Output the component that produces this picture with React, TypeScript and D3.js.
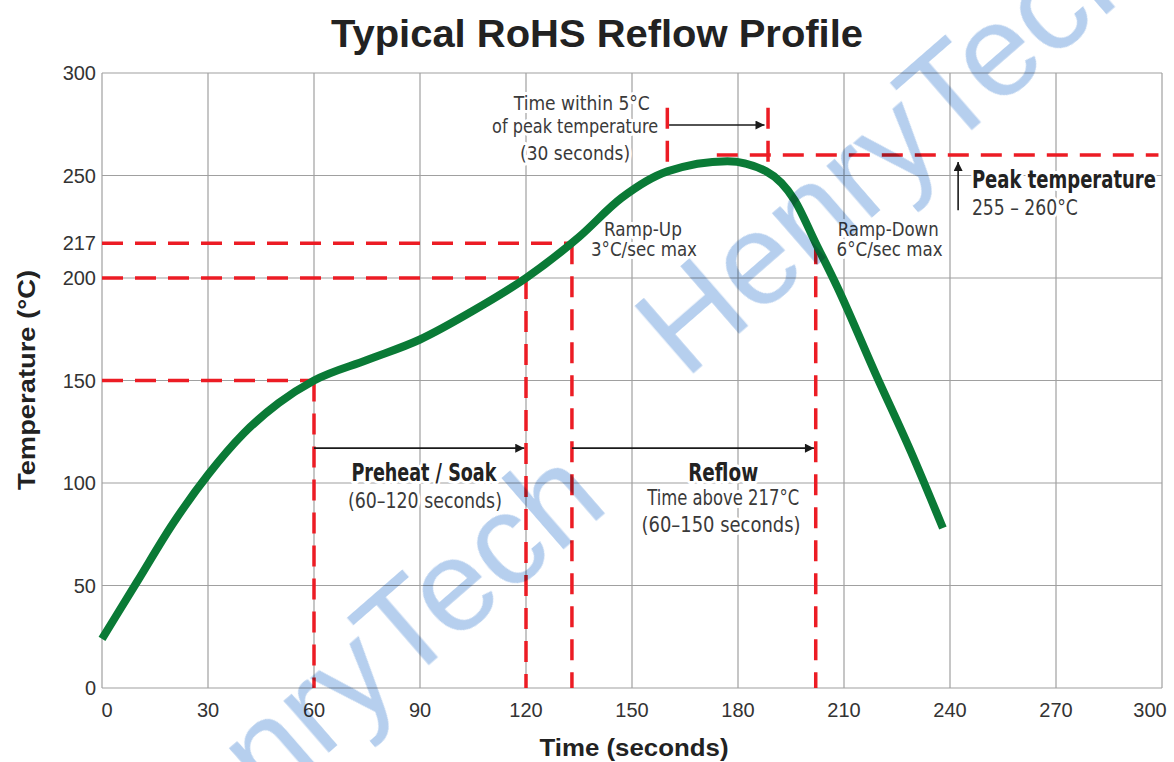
import React from 'react';
import * as d3 from 'd3';

// ---- data ----
const timeSec = [0, 10, 20, 30, 40, 50, 60, 75, 90, 105, 120, 135, 147, 160, 177, 188, 196, 202, 208, 219, 229, 238];
const tempC = [24, 52, 80, 104, 124, 139, 150, 160, 170, 184, 200, 220, 239, 252, 257, 252, 238, 217, 196, 153, 115, 78];

const xTickValues = [0, 30, 60, 90, 120, 150, 180, 210, 240, 270, 300];
const yTickValues = [0, 50, 100, 150, 200, 217, 250, 300];
const yGridValues = [0, 50, 100, 150, 200, 250, 300];

// red dashed reference lines
const hRefTemp = [150, 200, 217, 260];
const hRefStart = [0, 0, 0, 174];
const hRefEnd = [60, 120, 133, 299];
const vRefTime = [60, 120, 133, 202, 160, 188.5];
const vRefLow = [0, 0, 0, 0, 253, 253];
const vRefHigh = [150, 200, 217, 217, 283, 283];

// black arrows (time from, time to, temperature)
const hArrowFrom = [60, 133, 160.5];
const hArrowTo = [119.5, 201.5, 187.5];
const hArrowTemp = [117, 117, 274.6];
const peakArrowTime = 242.3;
const peakArrowFrom = 233;
const peakArrowTo = 256.6;

type Ann = { text: string; t: number; v: number; anchor: string; bold?: boolean; len: number; size: number };
const annotations: Ann[] = [
  { text: 'Time within 5°C', t: 135.8, v: 282, anchor: 'middle', len: 136, size: 20 },
  { text: 'of peak temperature', t: 133.9, v: 270.5, anchor: 'middle', len: 166, size: 20 },
  { text: '(30 seconds)', t: 133.9, v: 257.5, anchor: 'middle', len: 110, size: 20 },
  { text: 'Ramp-Up', t: 153.1, v: 220.5, anchor: 'middle', len: 78, size: 19 },
  { text: '3°C/sec max', t: 153.4, v: 210.7, anchor: 'middle', len: 106, size: 19 },
  { text: 'Ramp-Down', t: 222.5, v: 220.5, anchor: 'middle', len: 101, size: 19 },
  { text: '6°C/sec max', t: 222.9, v: 210.7, anchor: 'middle', len: 106, size: 19 },
  { text: 'Peak temperature', t: 246.2, v: 243.9, anchor: 'start', bold: true, len: 184, size: 25 },
  { text: '255 – 260°C', t: 246.2, v: 230.7, anchor: 'start', len: 106, size: 21 },
  { text: 'Preheat / Soak', t: 91.1, v: 101, anchor: 'middle', bold: true, len: 145, size: 25 },
  { text: '(60–120 seconds)', t: 91.4, v: 88, anchor: 'middle', len: 154, size: 21 },
  { text: 'Reflow', t: 175.8, v: 101, anchor: 'middle', bold: true, len: 70, size: 25 },
  { text: 'Time above 217°C', t: 175.8, v: 89.5, anchor: 'middle', len: 152, size: 21 },
  { text: '(60–150 seconds)', t: 175.2, v: 76.3, anchor: 'middle', len: 159, size: 21 },
];

const W = 1174;
const H = 762;
const narrow = '"Liberation Sans Narrow", "DejaVu Sans Condensed", "Arial Narrow", sans-serif';
const sans = '"Liberation Sans", Arial, Helvetica, sans-serif';

export default function App() {
  const x = d3.scaleLinear().domain([0, 300]).range([102, 1162]);
  const y = d3.scaleLinear().domain([0, 300]).range([688, 73]);

  const pts: [number, number][] = timeSec.map((t, i) => [t, tempC[i]]);
  const line = d3
    .line<[number, number]>()
    .x((d) => x(d[0]))
    .y((d) => y(d[1]))
    .curve(d3.curveMonotoneX);

  const red = '#ec1c24';
  const grid = '#a0a0a0';

  const xLabelX = (t: number) => (t === 0 ? x(t) + 5 : t === 300 ? x(t) - 12 : x(t));

  return (
    <svg width={W} height={H} style={{ position: 'absolute', left: 0, top: 0, background: '#fff' }}>
      <defs>
        <marker id="ah" viewBox="0 0 10 10" refX="10" refY="5" markerWidth="15" markerHeight="9" markerUnits="userSpaceOnUse" orient="auto">
          <path d="M0,0 L10,5 L0,10 z" fill="#1a1a1a" />
        </marker>
      </defs>
      <rect x={0} y={0} width={W} height={H} fill="#fff" />

      {/* title */}
      <text x={597} y={47} textAnchor="middle" fontFamily={sans} fontWeight="bold" fontSize={39} fill="#222" textLength={532} lengthAdjust="spacingAndGlyphs">
        Typical RoHS Reflow Profile
      </text>

      {/* grid */}
      <g stroke={grid} strokeWidth={1.2}>
        {yGridValues.map((v) => (
          <line key={'gy' + v} x1={x(0)} x2={x(300)} y1={y(v)} y2={y(v)} />
        ))}
        {xTickValues.map((t) => (
          <line key={'gx' + t} x1={x(t)} x2={x(t)} y1={y(0)} y2={y(300)} />
        ))}
      </g>

      {/* tick labels */}
      <g fontFamily={sans} fontSize={20} fill="#333">
        {yTickValues.map((v) => (
          <text key={'yl' + v} x={96} y={y(v) + 7} textAnchor="end">
            {v}
          </text>
        ))}
        {xTickValues.map((t) => (
          <text key={'xl' + t} x={xLabelX(t)} y={717} textAnchor="middle">
            {t}
          </text>
        ))}
      </g>

      {/* axis titles */}
      <text x={634} y={756} textAnchor="middle" fontFamily={sans} fontWeight="bold" fontSize={24} fill="#222" textLength={189} lengthAdjust="spacingAndGlyphs">
        Time (seconds)
      </text>
      <text transform={`translate(35,380) rotate(-90)`} textAnchor="middle" fontFamily={sans} fontWeight="bold" fontSize={24} fill="#222" textLength={220} lengthAdjust="spacingAndGlyphs">
        Temperature (°C)
      </text>

      {/* annotation texts with white halo */}
      <g style={{ paintOrder: 'stroke' }} stroke="#fff" strokeWidth={6} strokeLinejoin="round">
        {annotations.map((a) => (
          <text
            key={a.text}
            x={x(a.t)}
            y={y(a.v)}
            textAnchor={a.anchor}
            fontFamily={narrow}
            fontWeight={a.bold ? 'bold' : 'normal'}
            fontSize={a.size}
            fill={a.bold ? '#222' : '#3a3a3a'}
            textLength={a.len}
            lengthAdjust="spacingAndGlyphs"
          >
            {a.text}
          </text>
        ))}
      </g>

      {/* red dashed reference lines */}
      <g stroke={red} strokeWidth={3.5} strokeDasharray="21 12" fill="none">
        {hRefTemp.map((v, i) => (
          <line key={'hr' + i} x1={x(hRefStart[i])} x2={x(hRefEnd[i])} y1={y(v)} y2={y(v)} />
        ))}
        {vRefTime.map((t, i) => (
          <line key={'vr' + i} x1={x(t)} x2={x(t)} y1={y(vRefHigh[i])} y2={y(vRefLow[i])} />
        ))}
      </g>

      {/* black arrows */}
      <g stroke="#1a1a1a" strokeWidth={1.6} fill="none">
        {hArrowTemp.map((v, i) => (
          <line key={'ha' + i} x1={x(hArrowFrom[i])} x2={x(hArrowTo[i])} y1={y(v)} y2={y(v)} markerEnd="url(#ah)" />
        ))}
        <line x1={x(peakArrowTime)} x2={x(peakArrowTime)} y1={y(peakArrowFrom)} y2={y(peakArrowTo)} markerEnd="url(#ah)" />
      </g>

      {/* profile curve */}
      <path d={line(pts) || ''} fill="none" stroke="#0a7a36" strokeWidth={8} strokeLinecap="butt" />

      {/* watermark */}
      <g style={{ mixBlendMode: 'multiply' }} fill="#b6cfee" fontFamily={sans} fontSize={130}>
        <text transform="translate(142,915) rotate(-41)">HenryTech</text>
        <text transform="translate(685,380) rotate(-41)">HenryTech</text>
      </g>
    </svg>
  );
}
